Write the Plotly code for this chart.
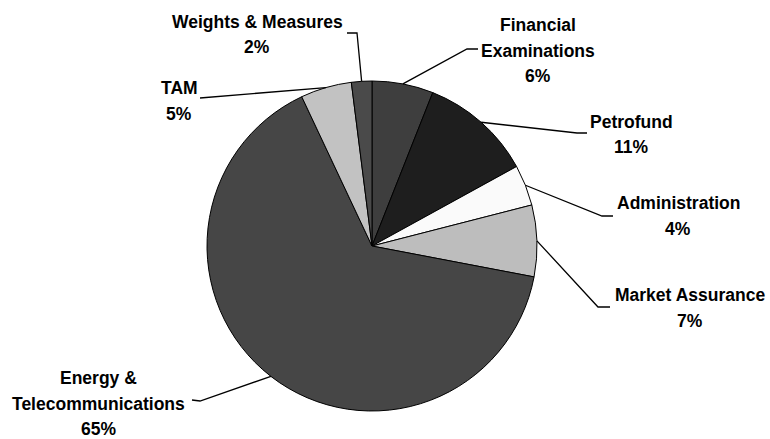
import plotly.graph_objects as go
import math

# ---- data ----
labels = ["Financial Examinations", "Petrofund", "Administration", "Market Assurance",
          "Energy & Telecommunications", "TAM", "Weights & Measures"]
values = [6, 11, 4, 7, 65, 5, 2]
label_lines = [["Financial", "Examinations"], ["Petrofund"], ["Administration"],
               ["Market Assurance"], ["Energy &", "Telecommunications"], ["TAM"],
               ["Weights & Measures"]]

# ---- styles / layout ----
colors = ["#3e3e3e", "#1e1e1e", "#fafafa", "#bdbdbd", "#464646", "#c2c2c2", "#4a4a4a"]
W, H = 770, 439
CX, CY, R = 372, 246, 165
ROT = 0
FONT = dict(family="Liberation Sans, Arial, sans-serif", size=17.5, color="black")
LINE_GAP = 25.5
# label block: (center x, center y of first line) in pixels
label_pos = [(538, 25), (631, 122), (678, 203), (690, 295), (99, 378), (179, 88), (257, 22)]
# leader line elbows after the slice edge point, in pixels
elbows = [[(467, 49), (478, 49)], [(577, 133), (587, 133)], [(602, 216), (613, 216)],
          [(598, 307), (610, 307)], [(200, 401), (192, 400)], [(200, 98)],
          [(357, 33), (347, 33)]]


def px(x):
    return x / W


def py(y):
    return 1 - y / H


fig = go.Figure(go.Pie(
    labels=labels, values=values, sort=False, direction="clockwise", rotation=ROT,
    textinfo="none", hoverinfo="label+percent", showlegend=False,
    marker=dict(colors=colors, line=dict(color="black", width=1)),
    domain=dict(x=[px(CX - R), px(CX + R)], y=[py(CY + R), py(CY - R)]),
))

total = sum(values)
cum = 0
shapes, annotations = [], []
for i, v in enumerate(values):
    mid = (cum + v / 2) / total
    cum += v
    theta = math.radians(ROT + 360 * mid)
    ex, ey = CX + R * math.sin(theta), CY - R * math.cos(theta)
    pts = [(ex, ey)] + elbows[i]
    path = "M " + " L ".join(f"{px(x):.5f},{py(y):.5f}" for x, y in pts)
    shapes.append(dict(type="path", path=path, xref="paper", yref="paper",
                       line=dict(color="black", width=1.3)))
    pct = f"{round(v / total * 100)}%"
    lines = label_lines[i] + [pct]
    cx, cy = label_pos[i]
    for k, t in enumerate(lines):
        annotations.append(dict(text=f"<b>{t}</b>", x=px(cx), y=py(cy + k * LINE_GAP),
                                xref="paper", yref="paper", xanchor="center",
                                yanchor="middle", showarrow=False, font=FONT))

fig.update_layout(width=W, height=H, margin=dict(l=0, r=0, t=0, b=0),
                  paper_bgcolor="white", plot_bgcolor="white",
                  shapes=shapes, annotations=annotations)
fig.write_html("out.html", config={"displayModeBar": False},
               post_script="document.body.style.margin='0';document.body.style.overflow='hidden';")
